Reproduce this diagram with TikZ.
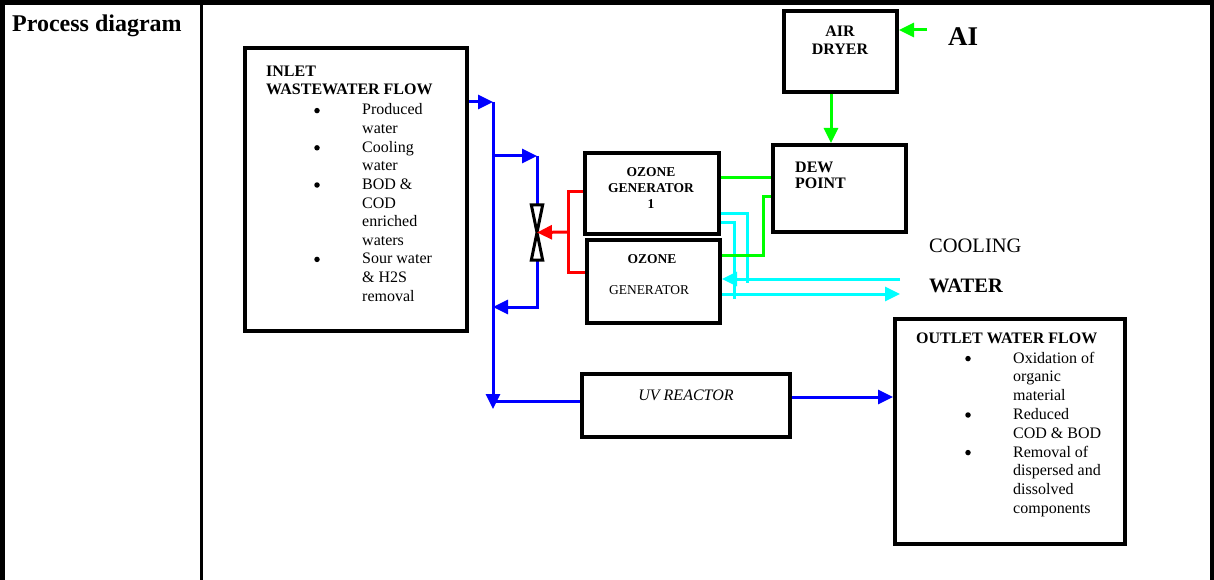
\documentclass[tikz,border=0pt]{standalone}
\usepackage{fontspec}
\setmainfont{Liberation Serif}
\usetikzlibrary{arrows.meta}
\begin{document}
\begin{tikzpicture}[x=1pt,y=-1pt,
  box/.style={draw=black, line width=4pt, inner sep=0pt},
  frame/.style={fill=black, draw=none},
  bl/.style={draw={rgb,255:red,0;green,0;blue,255}, line width=3pt},
  rd/.style={draw={rgb,255:red,255;green,0;blue,0}, line width=3pt},
  gr/.style={draw={rgb,255:red,0;green,255;blue,0}, line width=3pt},
  cy/.style={draw={rgb,255:red,0;green,255;blue,255}, line width=3pt},
  tip/.style={-{Triangle[length=15pt,width=14pt]}},
  txt/.style={inner sep=0pt, anchor=base west, font=\fontsize{16}{18.6}\selectfont},
  bul/.style={circle, fill=black, inner sep=0pt, minimum size=5.5pt},
  hd/.style={inner sep=0pt, anchor=base west, font=\fontsize{16}{18.6}\selectfont\bfseries},
  oz/.style={inner sep=0pt, anchor=base, font=\fontsize{13.5}{15}\selectfont\bfseries},
  hdc/.style={inner sep=0pt, anchor=base, font=\fontsize{16}{18.6}\selectfont\bfseries},
]
\useasboundingbox (0,0) rectangle (1214,580);
% table frame
\fill[frame] (0,0) rectangle (4.5,580);
\fill[frame] (0,0) rectangle (1214,5);
\fill[frame] (1209.5,0) rectangle (1214,580);
\fill[frame] (200,0) rectangle (202.5,580);
\node[inner sep=0pt, anchor=base west, font=\fontsize{24}{28}\selectfont\bfseries] (title) at (12,32) {Process diagram};

% boxes
\node[box, minimum width=222pt, minimum height=283pt] (inlet) at (356,189.5) {};
\node[box, minimum width=134pt, minimum height=81pt] (oz1) at (652,193.5) {};
\node[box, minimum width=133pt, minimum height=83pt] (oz2) at (653.5,281.5) {};
\node[box, minimum width=113pt, minimum height=81pt] (air) at (840.5,51.5) {};
\node[box, minimum width=133pt, minimum height=87pt] (dew) at (839.5,188.5) {};
\node[box, minimum width=208pt, minimum height=63pt] (uv) at (686,405.5) {};
\node[box, minimum width=230pt, minimum height=225pt] (outlet) at (1010,431.5) {};

% inlet text
\node[hd] (inh1) at (266,77) {INLET};
\node[hd] (inh2) at (266,95) {WASTEWATER FLOW};
\foreach \t [count=\i] in {Produced, water, Cooling, water, BOD \&, COD, enriched, waters, Sour water, \& H2S, removal}
  \node[txt] (inl\i) at (362,96.4+\i*18.6) {\t};
\foreach \b [count=\k] in {1,3,5,9}
  \node[bul] (inb\k) at (317,92+\b*18.6) {};

% outlet text
\node[hd] (outh) at (916,343) {OUTLET WATER FLOW};
\foreach \t [count=\i] in {Oxidation of, organic, material, Reduced, COD \& BOD, Removal of, dispersed and, dissolved, components}
  \node[txt] (out\i) at (1013,344.2+\i*18.8) {\t};
\foreach \b [count=\k] in {1,4,6}
  \node[bul] (outb\k) at (968,339.8+\b*18.8) {};

% ozone generators
\node[oz] (oz1a) at (651,177) {OZONE};
\node[oz] (oz1b) at (651,192) {GENERATOR};
\node[oz] (oz1c) at (651,208) {1};
\node[oz] (oz2a) at (652,263) {OZONE};
\node[inner sep=0pt, anchor=base, font=\fontsize{13.5}{15}\selectfont] (oz2b) at (649,294) {GENERATOR};

% air dryer, dew point
\node[hdc] (aira) at (840,37) {AIR};
\node[hdc] (airb) at (840,55) {DRYER};
\node[hd] (dewa) at (795,172) {DEW};
\node[hd] (dewb) at (795,189) {POINT};
\node[inner sep=0pt, anchor=base west, font=\fontsize{27}{30}\selectfont\bfseries] (ai) at (948,46) {AI};

% UV reactor
\node[inner sep=0pt, anchor=base, font=\fontsize{16}{18.6}\selectfont\itshape] (uvt) at (686,400) {UV REACTOR};

% cooling water
\node[inner sep=0pt, anchor=base west, font=\fontsize{20.5}{24}\selectfont] (cool) at (929,252) {COOLING};
\node[inner sep=0pt, anchor=base west, font=\fontsize{20.5}{24}\selectfont\bfseries] (wat) at (929,292) {WATER};

% junction coordinates
\coordinate (jTop) at (493,102);
\coordinate (jB1) at (493,156);
\coordinate (vTop) at (537,156);
\coordinate (jB2) at (493,307);
\coordinate (jBot) at (493,409);
\coordinate (jUV) at (493,401);
\coordinate (oIn) at (840,397);
\coordinate (rTop) at (568,191);
\coordinate (rBot) at (568,272);
\coordinate (rMid) at (568,232);
\coordinate (airIn) at (927,30);
\coordinate (gAD) at (831,120);
\coordinate (g1) at (740,178);
\coordinate (g2) at (763,196);
\coordinate (g3) at (763,255);
\coordinate (cA) at (747,213);
\coordinate (cA2) at (747,283);
\coordinate (cB) at (734,222);
\coordinate (cB2) at (734,299);
\coordinate (cIn) at (900,279);
\coordinate (cOut) at (900,294);

% valve
\node[inner sep=0pt, minimum width=11pt, minimum height=55pt] (valve) at (537,232.5) {};

% blue flow
\draw[bl, tip] (inlet.east |- jTop) -- (jTop);
\draw[bl, tip] (jTop) -- (jBot);
\draw[bl, tip] (jB1) -- (vTop);
\draw[bl] (vTop) -- (valve.north);
\draw[bl, tip] (valve.south) |- (jB2);
\draw[bl] (uv.west |- jUV) -- (jUV);
\draw[bl, tip] (uv.east |- oIn) -- (outlet.west |- oIn);
\draw[line width=3pt, line join=miter] (valve.north west) -- (valve.north east) -- (valve.south west) -- (valve.south east) -- cycle;

% red ozone line
\draw[rd] (oz1.west |- rTop) -- (rTop) -- (rBot) -- (oz2.west |- rBot);
\draw[rd, tip] (rMid) -- (valve.center);

% cyan cooling water
\draw[cy] (oz1.east |- cA) -- (cA) -- (cA2);
\draw[cy] (oz1.east |- cB) -- (cB) -- (cB2);
\draw[cy, tip] (cIn) -- (oz2.east |- cIn);
\draw[cy, tip] (oz2.east |- cOut) -- (cOut);

% green air
\draw[gr, tip] (airIn) -- (air.east |- airIn);
\draw[gr, tip] (air.south -| gAD) -- (dew.north -| gAD);
\draw[gr] (oz1.east |- g1) -- (dew.west |- g1);
\draw[gr] (dew.west |- g2) -- (g2) -- (g3) -- (oz2.east |- g3);
\end{tikzpicture}
\end{document}
